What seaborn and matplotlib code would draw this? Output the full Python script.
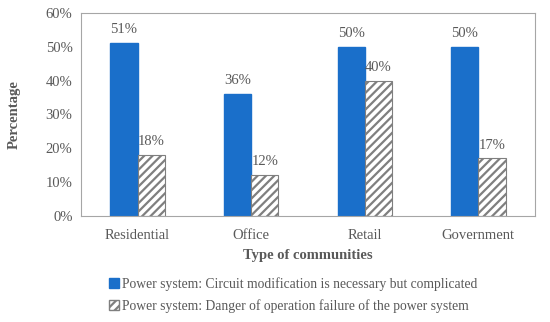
import matplotlib
matplotlib.use("Agg")
import matplotlib.pyplot as plt
import seaborn as sns
import pandas as pd
from matplotlib.patches import Patch
from matplotlib.ticker import PercentFormatter

# Data
communities = ["Residential", "Office", "Retail", "Government"]
circuit_modification = [51, 36, 50, 50]
operation_failure = [18, 12, 40, 17]
series_names = [
    "Power system: Circuit modification is necessary but complicated",
    "Power system: Danger of operation failure of the power system",
]

df = pd.DataFrame({
    "community": communities * 2,
    "value": circuit_modification + operation_failure,
    "series": [series_names[0]] * 4 + [series_names[1]] * 4,
})

sns.set_style("white")
plt.rcParams["font.family"] = ["Liberation Serif", "DejaVu Serif"]
plt.rcParams["hatch.color"] = "#7f7f7f"
plt.rcParams["hatch.linewidth"] = 1.6
text_color = "#595959"

fig = plt.figure(figsize=(5.5, 3.22), dpi=100)
ax = fig.add_axes([0.147, 0.329, 0.826, 0.631])

blue = "#1a6fca"
sns.barplot(data=df, x="community", y="value", hue="series",
            palette=[blue, "white"], saturation=1, width=0.48, ax=ax,
            legend=False)

# style the second series as hatched bars
for bar in ax.containers[1]:
    bar.set_hatch("////")
    bar.set_edgecolor("#7f7f7f")
    bar.set_linewidth(0.8)
for bar in ax.containers[0]:
    bar.set_edgecolor(blue)

for cont in ax.containers:
    ax.bar_label(cont, labels=[f"{v:.0f}%" for v in cont.datavalues],
                 padding=5, fontsize=10.5, color=text_color)

ax.set_ylim(0, 60)
ax.set_yticks(range(0, 61, 10))
ax.yaxis.set_major_formatter(PercentFormatter(decimals=0))
ax.set_xlim(-0.5, 3.5)
ax.tick_params(axis="x", labelsize=10.5, colors=text_color, length=0, pad=9)
ax.tick_params(axis="y", labelsize=10.5, colors=text_color, length=0, pad=6)
ax.set_xlabel("Type of communities", fontsize=10.5, fontweight="bold",
              color=text_color, labelpad=5)
ax.set_ylabel("Percentage", fontsize=10.5, fontweight="bold",
              color=text_color, labelpad=18)
for sp in ax.spines.values():
    sp.set_color("#a6a6a6")
    sp.set_linewidth(0.8)

handles = [
    Patch(facecolor=blue, edgecolor=blue),
    Patch(facecolor="white", edgecolor="#7f7f7f", hatch="////"),
]
fig.legend(handles, series_names, loc="upper left",
           bbox_to_anchor=(97 / 550, 1 - 265 / 322), frameon=False,
           fontsize=9.8, labelcolor=text_color, handlelength=0.75,
           handleheight=0.75, handletextpad=0.2, labelspacing=0.6)

fig.savefig("out.png", dpi=100)
